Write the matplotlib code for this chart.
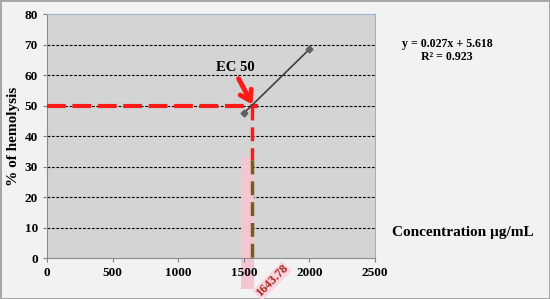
import numpy as np
import matplotlib
matplotlib.use("Agg")
import matplotlib.pyplot as plt
from matplotlib.patches import Rectangle

plt.rcParams["font.family"] = "serif"
plt.rcParams["font.serif"] = ["Liberation Serif", "DejaVu Serif"]
plt.rcParams["font.weight"] = "bold"

# data
conc = [1500, 2000]
hemolysis = [47.5, 68.5]
xticks = [0, 500, 1000, 1500, 2000, 2500]
yticks = [0, 10, 20, 30, 40, 50, 60, 70, 80]
ec50_y = 50
ec50_x = 1560          # where the guide line is drawn
ec50_label = "1643.78"
equation = "y = 0.027x + 5.618"
r2_text = "R² = 0.923"

fig = plt.figure(figsize=(5.5, 2.99), dpi=100)
fig.patch.set_facecolor("#f2f2f2")
fig.patch.set_edgecolor("#a6a6a6")
fig.patch.set_linewidth(2)

ax = fig.add_axes([0.0855, 0.137, 0.5965, 0.816])
ax.set_facecolor("#d4d4d4")
ax.set_xlim(0, 2500)
ax.set_ylim(0, 80)
ax.set_xticks(xticks)
ax.set_yticks(yticks)
ax.tick_params(labelsize=9.5, length=3, color="#808080", pad=3.5)
for lab in ax.get_xticklabels() + ax.get_yticklabels():
    lab.set_fontweight("bold")

for s in ["left", "bottom"]:
    ax.spines[s].set_color("#8c8c8c")
for s in ["top", "right"]:
    ax.spines[s].set_color("#95b3d7")

for yv in yticks[1:-1]:
    ax.axhline(yv, color="black", linestyle=(0, (2.5, 1.5)), linewidth=0.8, zorder=1)

# pink highlight behind the guide line
ax.add_patch(Rectangle((1480, -10), 100, 43, facecolor="#f4c6d2", edgecolor="none",
                       clip_on=False, zorder=1.5))

# data line
ax.plot(conc, hemolysis, color="#404040", linewidth=1.2, marker="D", markersize=3.5,
        markerfacecolor="#606060", markeredgecolor="#606060", zorder=4)

# EC50 guide lines
ax.plot([0, 1610], [ec50_y, ec50_y], color="#ff1a1a", linewidth=3,
        linestyle=(0, (4.5, 1.6)), zorder=3)
ax.plot([ec50_x, ec50_x], [ec50_y, 32], color="#ff1a1a", linewidth=2.5,
        linestyle=(0, (4, 2)), zorder=3)
ax.plot([ec50_x, ec50_x], [32, 0], color="#7f5a18", linewidth=2.5,
        linestyle=(0, (4, 2)), zorder=3)

ax.annotate("", xy=(1565, 50.3), xytext=(1460, 58.8),
            arrowprops=dict(arrowstyle="->,head_length=0.7,head_width=0.45",
                            color="#ff1a1a", lw=3.5, shrinkA=0, shrinkB=0), zorder=5)
ax.text(1433, 62.5, "EC 50", ha="center", va="center", fontsize=10.5,
        fontweight="bold", color="black", zorder=5)

ax.text(1715, -7.5, ec50_label, rotation=45, ha="center", va="center", fontsize=9,
        fontweight="bold", color="#a0281a", clip_on=False,
        bbox=dict(facecolor="#f9d3de", edgecolor="none", pad=0.5), zorder=6)

ax.set_ylabel("% of hemolysis", fontsize=11, fontweight="bold", labelpad=3)
fig.text(0.713, 0.221, "Concentration µg/mL", fontsize=11, fontweight="bold",
         ha="left", va="center")

fig.text(0.813, 0.853, equation, fontsize=8.6, fontweight="bold", ha="center", va="center")
fig.text(0.813, 0.81, r2_text, fontsize=8.6, fontweight="bold", ha="center", va="center")

fig.savefig("out.png", dpi=100)
